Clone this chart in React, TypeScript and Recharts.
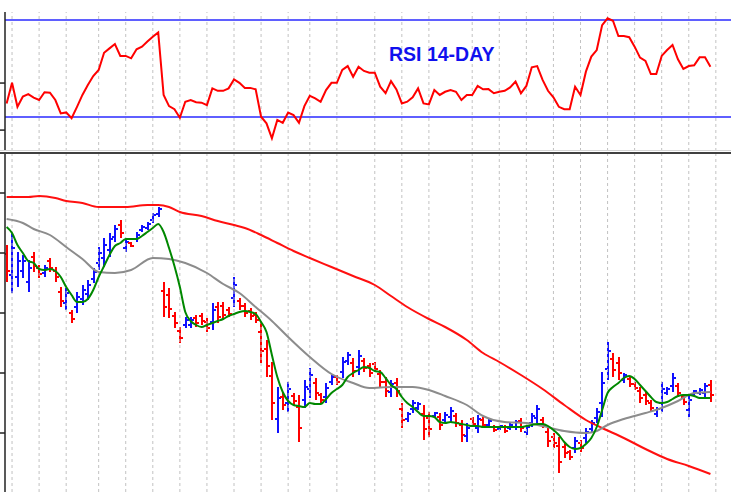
import React from 'react';
import { ComposedChart, Line, Bar, XAxis, YAxis, ReferenceLine } from 'recharts';

// 日线 OHLC（按交易日顺序，最早在前）
const OPEN = [
  239, 218, 216, 222, 211, 236, 225, 220, 232, 222,
  201, 190, 180, 186, 194, 199, 214, 230, 235, 243,
  256, 268, 245, 250, 254, 263, 265, 273, 279, 202,
  198, 177, 162, 168, 168, 175, 177, 171, 171, 186,
  187, 183, 195, 192, 187, 182, 178, 161, 144, 117,
  74, 96, 90, 97, 86, 93, 104, 110, 98, 96,
  111, 116, 121, 132, 130, 126, 132, 127, 129, 119,
  111, 101, 110, 84, 74, 84, 85, 79, 75, 77,
  76, 73, 76, 77, 68, 57, 74, 65, 73, 68,
  66, 64, 66, 65, 66, 72, 61, 70, 75, 73,
  61, 56, 47, 46, 41, 45, 50, 55, 64, 75,
  90, 124, 134, 130, 113, 114, 109, 102, 98, 90,
  79, 90, 100, 107, 107, 96, 83, 99, 100, 100,
  108,
];
const HIGH = [
  248, 260, 241, 238, 233, 241, 228, 228, 235, 226,
  206, 205, 183, 201, 208, 213, 225, 246, 255, 260,
  268, 273, 255, 251, 261, 268, 271, 280, 286, 211,
  205, 181, 166, 176, 176, 178, 180, 175, 190, 191,
  191, 186, 216, 195, 190, 185, 181, 171, 153, 131,
  106, 100, 111, 100, 98, 113, 125, 115, 100, 110,
  118, 118, 136, 141, 135, 143, 135, 130, 131, 123,
  116, 113, 115, 90, 81, 93, 91, 88, 81, 81,
  80, 81, 86, 80, 73, 70, 76, 78, 76, 75,
  68, 68, 68, 70, 73, 75, 68, 80, 88, 76,
  66, 60, 56, 50, 43, 56, 53, 65, 73, 85,
  121, 151, 140, 136, 120, 116, 111, 106, 101, 93,
  86, 111, 106, 120, 110, 98, 98, 103, 105, 110,
  113,
];
const LOW = [
  211, 200, 206, 215, 201, 221, 215, 216, 221, 211,
  186, 183, 170, 180, 188, 193, 210, 223, 226, 236,
  251, 255, 241, 246, 251, 261, 263, 270, 276, 176,
  175, 165, 150, 165, 165, 166, 168, 161, 163, 170,
  173, 176, 186, 183, 176, 173, 170, 130, 116, 73,
  60, 83, 81, 88, 51, 85, 95, 93, 90, 90,
  108, 108, 115, 128, 116, 118, 121, 116, 121, 106,
  96, 96, 96, 65, 71, 80, 83, 53, 56, 75,
  63, 70, 71, 66, 51, 51, 66, 60, 65, 65,
  61, 63, 60, 63, 63, 61, 58, 66, 70, 65,
  46, 45, 20, 35, 33, 40, 41, 50, 60, 70,
  76, 113, 116, 113, 110, 106, 103, 90, 88, 81,
  76, 81, 98, 101, 96, 88, 76, 98, 98, 96,
  91,
];
const CLOSE = [
  222, 245, 232, 232, 225, 227, 219, 225, 225, 216,
  192, 200, 174, 196, 203, 208, 221, 240, 248, 254,
  264, 260, 251, 247, 258, 266, 269, 278, 284, 186,
  184, 170, 155, 173, 173, 170, 172, 165, 183, 176,
  178, 179, 208, 187, 180, 177, 173, 142, 127, 90,
  95, 88, 104, 92, 65, 106, 118, 100, 93, 105,
  116, 111, 131, 138, 122, 137, 125, 120, 124, 111,
  102, 109, 102, 73, 79, 90, 89, 64, 64, 80,
  68, 78, 82, 70, 58, 65, 69, 74, 68, 72,
  63, 67, 62, 68, 71, 65, 66, 77, 84, 68,
  52, 50, 31, 40, 36, 52, 45, 61, 70, 81,
  110, 142, 123, 120, 118, 109, 105, 95, 92, 85,
  84, 104, 104, 115, 100, 91, 93, 102, 103, 107,
  98,
];

// RSI 14 日
const RSI_14 = [
  35.6, 44.1, 34.2, 38.4, 39.4, 38.0, 37.0, 40.2, 40.0, 37.0,
  31.5, 31.9, 29.5, 34.2, 39.1, 43.2, 46.9, 49.4, 56.5, 58.3,
  60.1, 55.2, 55.2, 54.2, 57.9, 59.0, 61.1, 63.1, 64.9, 39.1,
  34.5, 33.2, 29.7, 36.3, 37.0, 36.1, 35.9, 34.9, 41.8, 40.8,
  40.8, 41.8, 45.5, 44.1, 42.0, 42.0, 41.4, 30.1, 27.4, 21.2,
  28.8, 27.6, 31.8, 30.8, 27.6, 34.5, 38.7, 37.7, 36.3, 41.1,
  44.1, 44.1, 49.4, 51.0, 46.6, 50.7, 49.0, 48.3, 48.3, 42.5,
  39.8, 44.8, 41.4, 35.6, 36.3, 38.1, 41.8, 35.6, 35.2, 41.1,
  39.1, 40.4, 41.1, 40.4, 37.0, 39.1, 39.1, 42.8, 41.4, 41.5,
  39.8, 40.4, 40.8, 42.2, 44.6, 39.8, 42.8, 50.5, 51.0, 45.3,
  40.8, 38.1, 34.2, 33.2, 33.2, 42.5, 39.1, 48.7, 54.9, 57.6,
  67.9, 70.7, 69.7, 63.4, 63.4, 62.9, 59.0, 54.5, 53.1, 47.7,
  47.7, 55.2, 57.6, 59.7, 53.8, 49.8, 51.0, 51.3, 54.6, 54.6,
  50.7,
];

// 短期均线（绿）
const MA_SHORT = [
  266, 260, 248, 240, 232, 230, 224, 223, 224, 222,
  216, 206, 198, 191, 191, 194, 203, 216, 227, 238,
  247, 250, 254, 254, 254, 257, 261, 265, 269, 261,
  245, 227, 206, 181, 172, 168, 166, 168, 170, 172,
  174, 177, 179, 181, 182, 181, 179, 171, 161, 138,
  116, 101, 92, 88, 87, 86, 90, 89, 89, 94,
  100, 104, 108, 116, 120, 123, 126, 125, 122, 121,
  115, 108, 104, 96, 90, 86, 81, 77, 77, 76,
  71, 70, 71, 70, 69, 68, 67, 67, 66, 66,
  66, 66, 66, 66, 66, 66, 67, 68, 69, 69,
  67, 63, 58, 51, 46, 44, 45, 49, 55, 66,
  83, 100, 106, 110, 115, 117, 114, 108, 102, 96,
  91, 90, 91, 94, 97, 98, 98, 97, 95, 95,
  95,
];

// 中期均线（灰），[交易日序号, 数值]
const MA_MID: [number, number][] = [
  [0, 274], [3, 270], [5, 264], [8, 258], [11, 246], [14, 234], [17, 221], [20, 220],
  [23, 223], [27, 235], [30, 234], [33, 230], [37, 220], [40, 209], [43, 200], [46, 186],
  [49, 172], [52, 156], [56, 136], [60, 119], [64, 110], [67, 105], [71, 106], [75, 106],
  [78, 103], [81, 97], [85, 88], [88, 77], [92, 71], [96, 70], [99, 67], [103, 62],
  [107, 60], [109, 62], [111, 68], [114, 74], [118, 80], [121, 85], [124, 92], [127, 100],
  [130, 101],
];

// 长期均线（红）
const MA_LONG: [number, number][] = [
  [0, 296], [4, 296], [6, 297], [9, 295], [11, 292], [14, 290], [17, 286], [22, 286],
  [26, 288], [28, 288], [30, 286], [32, 281], [36, 277], [39, 272], [42, 268], [44, 265],
  [47, 258], [50, 250], [53, 242], [56, 235], [60, 226], [64, 217], [68, 208], [71, 197],
  [74, 186], [78, 174], [81, 166], [85, 153], [88, 140], [91, 131], [95, 118], [99, 104],
  [103, 88], [107, 73], [110, 65], [114, 55], [118, 44], [122, 34], [126, 27], [130, 19],
];

// 每周第一个交易日（竖向虚线）
const WEEK_STARTS = [1, 6, 11, 17, 22, 27, 32, 37, 42, 47, 52, 56, 61, 68, 73, 78, 86, 91, 96, 101, 106, 111, 116, 121, 126, 131];
const PRICE_TICKS = [60, 120, 180, 240, 300];
const RSI_TICKS = [24.6, 44];
const RSI_LEVELS = [70, 30];

const UP_COLOR = '#1010ff';
const DOWN_COLOR = '#ff0000';
const GRID_COLOR = '#c2c2c2';
const X_DOMAIN: [number, number] = [-0.3, 133.8];

const midMap = new Map(MA_MID);
const longMap = new Map(MA_LONG);

const data = HIGH.map((h, i) => ({
  i,
  o: OPEN[i],
  h,
  l: LOW[i],
  c: CLOSE[i],
  range: [LOW[i], h],
  rsi: RSI_14[i],
  maShort: MA_SHORT[i],
  maMid: midMap.has(i) ? midMap.get(i) : null,
  maLong: longMap.has(i) ? longMap.get(i) : null,
}));

// 美式 OHLC 竖线：左侧开盘，右侧收盘
function OhlcBar(props: any) {
  const { x, y, width, height, payload } = props;
  if (!payload || y == null || height == null) return <g />;
  const top = Math.min(y, y + height);
  const bottom = Math.max(y, y + height);
  const span = payload.h - payload.l || 1;
  const toY = (v: number) => top + ((payload.h - v) / span) * (bottom - top);
  const cx = Math.round(x + width / 2);
  const color = payload.c >= payload.o ? UP_COLOR : DOWN_COLOR;
  return (
    <g>
      <line x1={cx} x2={cx} y1={top} y2={bottom} stroke={color} strokeWidth={2} />
      <line x1={cx - 3} x2={cx - 1} y1={toY(payload.o)} y2={toY(payload.o)} stroke={color} strokeWidth={2} />
      <line x1={cx + 1} x2={cx + 3} y1={toY(payload.c)} y2={toY(payload.c)} stroke={color} strokeWidth={2} />
    </g>
  );
}

const noTick = () => <g />;

const weekLines = () =>
  WEEK_STARTS.map((w) => <ReferenceLine key={`w${w}`} x={w} stroke={GRID_COLOR} strokeDasharray="3 3" />);

export default function App() {
  return (
    <div style={{ position: 'absolute', left: 0, top: 0, width: 731, height: 492, background: '#fff', overflow: 'hidden' }}>
      {/* RSI 面板 */}
      <ComposedChart width={731} height={151} data={data} margin={{ top: 12, right: 0, left: 0, bottom: 0 }}>
        <XAxis type="number" dataKey="i" domain={X_DOMAIN} height={0} axisLine={false} tickLine={false} tick={false} allowDataOverflow />
        <YAxis
          width={5}
          domain={[15.98, 73.3]}
          ticks={RSI_TICKS}
          allowDataOverflow
          tickSize={5}
          tick={noTick}
          axisLine={{ stroke: '#222', strokeWidth: 1.5 }}
          tickLine={{ stroke: '#222', strokeWidth: 1.5 }}
        />
        {weekLines()}
        {RSI_LEVELS.map((lv) => (
          <ReferenceLine key={lv} y={lv} stroke="#2a2aff" strokeWidth={1.5} />
        ))}
        <Line type="linear" dataKey="rsi" stroke="#ff0000" strokeWidth={2} dot={false} isAnimationActive={false} />
      </ComposedChart>

      <div style={{ position: 'absolute', left: 0, top: 150, width: 731, height: 1, background: '#d4d4d4' }} />
      <div style={{ position: 'absolute', left: 0, top: 152, width: 731, height: 2, background: '#404040' }} />

      <div
        style={{
          position: 'absolute',
          left: 389,
          top: 45,
          fontFamily: '"Liberation Sans", Arial, sans-serif',
          fontWeight: 'bold',
          fontSize: 19.5,
          lineHeight: '19px',
          color: '#1010ee',
          whiteSpace: 'nowrap',
        }}
      >
        RSI 14-DAY
      </div>

      {/* 价格面板 */}
      <div style={{ position: 'absolute', left: 0, top: 154 }}>
        <ComposedChart width={731} height={338} data={data} margin={{ top: 0, right: 0, left: 0, bottom: 0 }}>
          <XAxis type="number" dataKey="i" domain={X_DOMAIN} height={0} axisLine={false} tickLine={false} tick={false} allowDataOverflow />
          <YAxis
            width={5}
            domain={[1, 339]}
            ticks={PRICE_TICKS}
            allowDataOverflow
            tickSize={5}
            tick={noTick}
            axisLine={{ stroke: '#222', strokeWidth: 1.5 }}
            tickLine={{ stroke: '#222', strokeWidth: 1.5 }}
          />
          {weekLines()}
          <Bar dataKey="range" barSize={2} shape={OhlcBar} isAnimationActive={false} />
          <Line type="monotone" dataKey="maLong" stroke="#ff1010" strokeWidth={2} dot={false} connectNulls isAnimationActive={false} />
          <Line type="monotone" dataKey="maMid" stroke="#8c8c8c" strokeWidth={2} dot={false} connectNulls isAnimationActive={false} />
          <Line type="monotone" dataKey="maShort" stroke="#008800" strokeWidth={2} dot={false} isAnimationActive={false} />
        </ComposedChart>
      </div>
    </div>
  );
}
